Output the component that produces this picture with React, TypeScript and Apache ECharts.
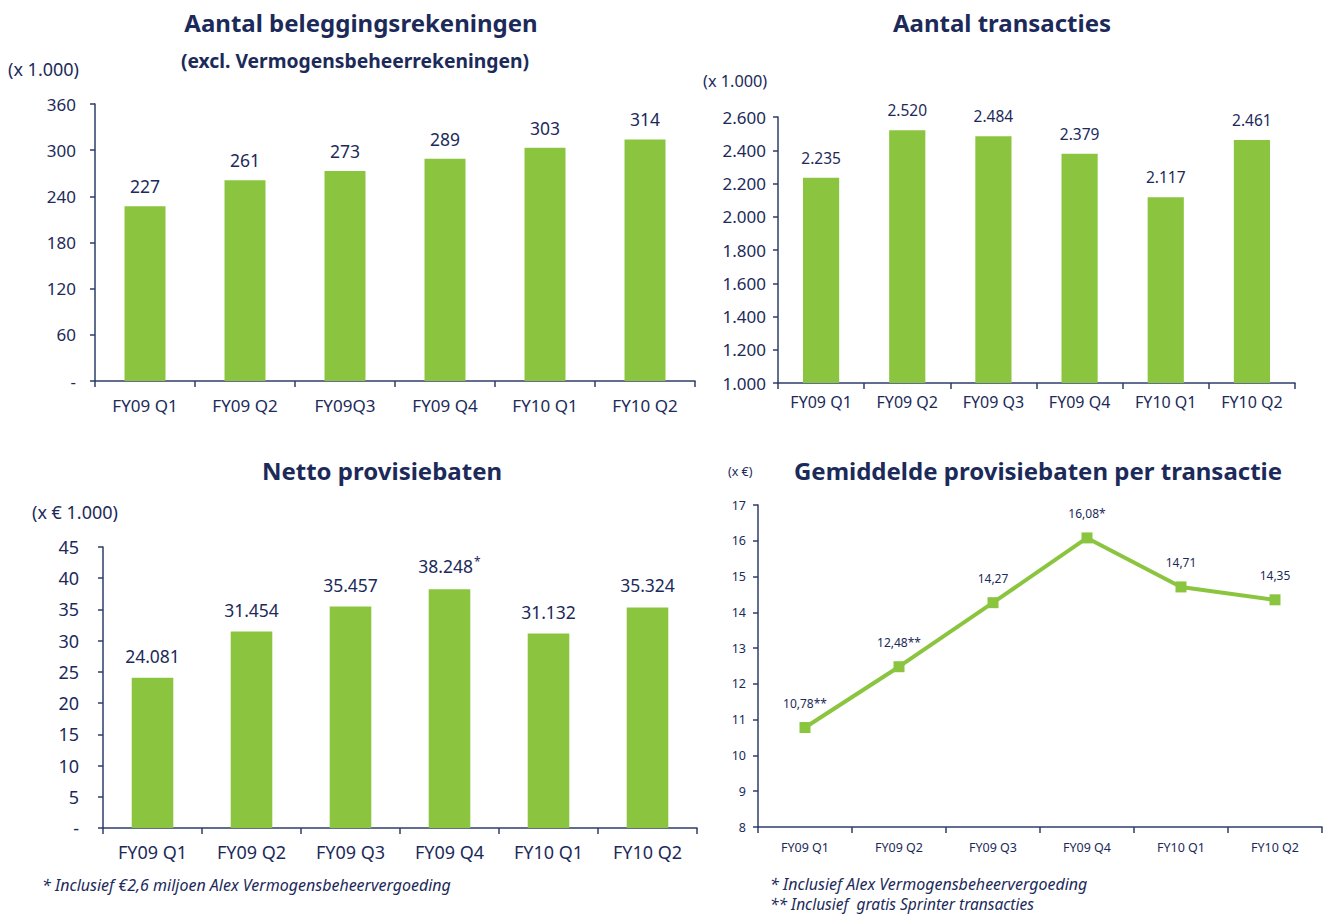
import React, { useEffect, useRef } from "react";
import * as echarts from "echarts";

// ---------- data ----------
const categoriesAccounts = ["FY09 Q1", "FY09 Q2", "FY09Q3", "FY09 Q4", "FY10 Q1", "FY10 Q2"];
const categories = ["FY09 Q1", "FY09 Q2", "FY09 Q3", "FY09 Q4", "FY10 Q1", "FY10 Q2"];
const accounts = [227, 261, 273, 289, 303, 314];
const transactions = [2235, 2520, 2484, 2379, 2117, 2461];
const commission = [24.081, 31.454, 35.457, 38.248, 31.132, 35.324];
const commissionNotes = ["", "", "", "*", "", ""];
const avgCommission = [10.78, 12.48, 14.27, 16.08, 14.71, 14.35];
const avgNotes = ["**", "**", "", "*", "", ""];

const FONT = '"Noto Sans", "Open Sans", sans-serif';
const NAVY = "#1c2a5a";
const AXIS = "#2e3c6a";
const GREEN = "#8bc540";

const thousands = (v: number) => String(v).replace(/\B(?=(\d{3})+(?!\d))/g, ".");
const dashZero = (v: number) => (v === 0 ? "-" : String(v));

function xAxisFor(gridIndex: number, data: string[], fontSize: number, margin: number) {
  return {
    type: "category",
    gridIndex,
    data,
    axisLine: { show: true, lineStyle: { color: AXIS, width: 1.5 } },
    axisTick: { show: true, length: 6, lineStyle: { color: AXIS, width: 1.5 } },
    axisLabel: { color: NAVY, fontSize, fontFamily: FONT, margin, interval: 0 },
    splitLine: { show: false },
  };
}

function yAxisFor(
  gridIndex: number,
  min: number,
  max: number,
  interval: number,
  fontSize: number,
  margin: number,
  formatter: (v: number) => string
) {
  return {
    type: "value",
    gridIndex,
    min,
    max,
    interval,
    axisLine: { show: true, lineStyle: { color: AXIS, width: 1.5 } },
    axisTick: { show: true, length: 5, lineStyle: { color: AXIS, width: 1.5 } },
    axisLabel: { color: NAVY, fontSize, fontFamily: FONT, margin, formatter },
    splitLine: { show: false },
  };
}

function text(x: number, y: number, t: string, font: string, align = "center") {
  return {
    type: "text",
    x,
    y,
    style: { text: t, font, fill: NAVY, textAlign: align, textVerticalAlign: "middle" },
  };
}

export default function App() {
  const ref = useRef<HTMLDivElement>(null);

  useEffect(() => {
    if (!ref.current) return;
    const chart = echarts.init(ref.current, undefined, { renderer: "svg" });

    const labelBase = { color: NAVY, fontFamily: FONT };

    chart.setOption({
      animation: false,
      backgroundColor: "#ffffff",
      grid: [
        { left: 95, top: 104, width: 600, height: 277 },
        { left: 778, top: 117, width: 517, height: 266 },
        { left: 103, top: 547, width: 594, height: 281 },
        { left: 758, top: 505, width: 564, height: 322 },
      ],
      xAxis: [
        xAxisFor(0, categoriesAccounts, 17, 16),
        xAxisFor(1, categories, 16, 11),
        xAxisFor(2, categories, 18, 15),
        xAxisFor(3, categories, 12.5, 14),
      ],
      yAxis: [
        yAxisFor(0, 0, 360, 60, 17, 19, dashZero),
        yAxisFor(1, 1000, 2600, 200, 17, 12, thousands),
        yAxisFor(2, 0, 45, 5, 18, 24, dashZero),
        yAxisFor(3, 8, 17, 1, 12.5, 12, (v) => String(v)),
      ],
      series: [
        {
          type: "bar",
          xAxisIndex: 0,
          yAxisIndex: 0,
          data: accounts,
          barWidth: "41%",
          itemStyle: { color: GREEN },
          label: { show: true, position: "top", distance: 11, fontSize: 17.5, ...labelBase },
        },
        {
          type: "bar",
          xAxisIndex: 1,
          yAxisIndex: 1,
          data: transactions,
          barWidth: "42%",
          itemStyle: { color: GREEN },
          label: {
            show: true,
            position: "top",
            distance: 12,
            fontSize: 15.5,
            ...labelBase,
            formatter: (p: any) => thousands(p.value),
          },
        },
        {
          type: "bar",
          xAxisIndex: 2,
          yAxisIndex: 2,
          data: commission,
          barWidth: "42%",
          itemStyle: { color: GREEN },
          label: {
            show: true,
            position: "top",
            distance: 13,
            fontSize: 17.5,
            ...labelBase,
            formatter: (p: any) =>
              "{v|" + p.value.toFixed(3) + "}" + (commissionNotes[p.dataIndex] ? "{s|" + commissionNotes[p.dataIndex] + "}" : ""),
            rich: {
              v: { fontSize: 17.5, color: NAVY, fontFamily: FONT },
              s: { fontSize: 12, color: NAVY, fontFamily: FONT, padding: [0, 0, 9, 1] },
            },
          },
        },
        {
          type: "line",
          xAxisIndex: 3,
          yAxisIndex: 3,
          data: avgCommission,
          symbol: "rect",
          symbolSize: 11,
          lineStyle: { color: GREEN, width: 4 },
          itemStyle: { color: GREEN },
          label: {
            show: true,
            position: "top",
            distance: 13,
            fontSize: 12,
            ...labelBase,
            formatter: (p: any) => p.value.toFixed(2).replace(".", ",") + avgNotes[p.dataIndex],
          },
        },
      ],
      graphic: [
        text(361, 22, "Aantal beleggingsrekeningen", `bold 24px ${FONT}`),
        text(355, 60, "(excl. Vermogensbeheerrekeningen)", `bold 19.3px ${FONT}`),
        text(8, 69, "(x 1.000)", `18px ${FONT}`, "left"),
        text(1002, 22, "Aantal transacties", `bold 24px ${FONT}`),
        text(703, 81, "(x 1.000)", `16.3px ${FONT}`, "left"),
        text(382, 470, "Netto provisiebaten", `bold 24px ${FONT}`),
        text(32, 512, "(x € 1.000)", `18px ${FONT}`, "left"),
        text(1038, 470, "Gemiddelde provisiebaten per transactie", `bold 24px ${FONT}`),
        text(728, 471, "(x €)", `12.5px ${FONT}`, "left"),
        text(42, 885, "* Inclusief €2,6 miljoen Alex Vermogensbeheervergoeding", `italic 16px ${FONT}`, "left"),
        text(770, 884, "* Inclusief Alex Vermogensbeheervergoeding", `italic 16px ${FONT}`, "left"),
        text(770, 904, "** Inclusief  gratis Sprinter transacties", `italic 15.5px ${FONT}`, "left"),
      ],
    });

    return () => chart.dispose();
  }, []);

  return (
    <div
      ref={ref}
      style={{ position: "fixed", left: 0, top: 0, width: 1329, height: 916, background: "#fff" }}
    />
  );
}
